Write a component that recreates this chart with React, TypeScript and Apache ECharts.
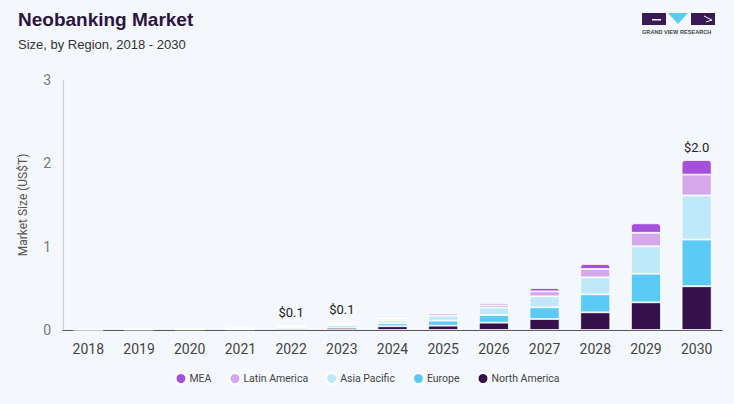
import React, { useEffect, useRef } from "react";
import * as echarts from "echarts";

const years = ["2018", "2019", "2020", "2021", "2022", "2023", "2024", "2025", "2026", "2027", "2028", "2029", "2030"];
const northAmerica = [0.003, 0.005, 0.008, 0.009, 0.018, 0.026, 0.045, 0.052, 0.088, 0.132, 0.212, 0.332, 0.525];
const europe = [0.002, 0.003, 0.005, 0.006, 0.013, 0.025, 0.035, 0.06, 0.092, 0.14, 0.216, 0.343, 0.56];
const asiaPacific = [0.001, 0.002, 0.004, 0.005, 0.012, 0.022, 0.035, 0.06, 0.088, 0.132, 0.204, 0.329, 0.53];
const latinAmerica = [0.0005, 0.001, 0.002, 0.002, 0.006, 0.01, 0.018, 0.028, 0.029, 0.06, 0.1, 0.163, 0.25];
const mea = [0.0003, 0.0005, 0.001, 0.001, 0.003, 0.005, 0.01, 0.012, 0.024, 0.04, 0.06, 0.113, 0.175];
const labelledYears = ["2022", "2023", "2030"];
const yTicks = [0, 1, 2, 3];

const COLORS = {
  na: "#36104a",
  eu: "#5bcbf5",
  ap: "#bfe8f9",
  la: "#d4a8ea",
  mea: "#a550d8",
};

export default function App() {
  const ref = useRef<HTMLDivElement>(null);

  useEffect(() => {
    document.body.style.margin = "0";
    if (!ref.current) return;
    const chart = echarts.init(ref.current, null, { renderer: "svg" });

    const totals = years.map(
      (_, i) => northAmerica[i] + europe[i] + asiaPacific[i] + latinAmerica[i] + mea[i]
    );

    const seg = (name: string, data: number[], color: string, top = false) => ({
      name,
      type: "bar",
      stack: "total",
      barWidth: 30,
      data,
      itemStyle: {
        color,
        borderColor: "#ffffff",
        borderWidth: 0.8,
        borderRadius: top ? [3, 3, 0, 0] : 0,
      },
      label: top
        ? {
            show: true,
            position: "top",
            distance: 6,
            color: "#222",
            fontSize: 13,
            fontFamily: "Roboto, Arial, sans-serif",
            formatter: (p: any) =>
              labelledYears.includes(p.name)
                ? "$" + (Math.round(totals[p.dataIndex] * 10) / 10).toFixed(1)
                : "",
          }
        : { show: false },
      emphasis: { disabled: true },
    });

    chart.setOption({
      animation: false,
      backgroundColor: "#f4f7fb",
      textStyle: { fontFamily: "Roboto, Arial, sans-serif" },
      grid: { left: 63, right: 12, top: 80, bottom: 74 },
      legend: {
        data: ["MEA", "Latin America", "Asia Pacific", "Europe", "North America"],
        bottom: 14,
        left: "center",
        icon: "circle",
        itemWidth: 11,
        itemHeight: 11,
        itemGap: 17,
        textStyle: { color: "#444", fontSize: 10.5, padding: [0, 0, 0, -2] },
      },
      xAxis: {
        type: "category",
        data: years,
        axisLine: { lineStyle: { color: "#555", width: 1.2 } },
        axisTick: { show: false },
        axisLabel: { color: "#444", fontSize: 14, margin: 12 },
      },
      yAxis: {
        type: "value",
        min: 0,
        max: 3,
        interval: 1,
        name: "Market Size (US$T)",
        nameLocation: "middle",
        nameGap: 34,
        nameTextStyle: { color: "#555", fontSize: 12 },
        axisLine: { show: true, lineStyle: { color: "#d0d0d0", width: 1.2 } },
        axisTick: { show: false },
        splitLine: { show: false },
        axisLabel: {
          color: "#777",
          fontSize: 14,
          margin: 12,
          formatter: (v: number) => (yTicks.includes(v) ? String(v) : ""),
        },
      },
      series: [
        seg("North America", northAmerica, COLORS.na),
        seg("Europe", europe, COLORS.eu),
        seg("Asia Pacific", asiaPacific, COLORS.ap),
        seg("Latin America", latinAmerica, COLORS.la),
        seg("MEA", mea, COLORS.mea, true),
      ],
      graphic: [
        {
          type: "text",
          left: 18,
          top: 10,
          style: {
            text: "Neobanking Market",
            fill: "#2a1540",
            font: "bold 19px Arial, 'Liberation Sans', sans-serif",
          },
        },
        {
          type: "text",
          left: 18,
          top: 38,
          style: {
            text: "Size, by Region, 2018 - 2030",
            fill: "#333",
            font: "13px Arial, 'Liberation Sans', sans-serif",
          },
        },
        {
          type: "group",
          left: 642,
          top: 13,
          children: [
            { type: "rect", shape: { x: 0, y: 0, width: 24, height: 12 }, style: { fill: "#3a1a55" } },
            { type: "rect", shape: { x: 10, y: 6, width: 9, height: 1.5 }, style: { fill: "#f4f7fb" } },
            {
              type: "polygon",
              shape: { points: [[26, 0], [46, 0], [36, 11]] },
              style: { fill: "#5bcbf5" },
            },
            { type: "rect", shape: { x: 49, y: 0, width: 24, height: 12 }, style: { fill: "#3a1a55" } },
            {
              type: "polyline",
              shape: { points: [[62, 3], [70, 7], [64, 9]] },
              style: { stroke: "#f4f7fb", lineWidth: 1, fill: "none" },
            },
            {
              type: "text",
              x: 0,
              y: 16,
              style: {
                text: "GRAND VIEW RESEARCH",
                fill: "#444",
                font: "bold 5.6px Arial, sans-serif",
              },
            },
          ],
        },
      ],
    });

    return () => chart.dispose();
  }, []);

  return <div ref={ref} style={{ width: 734, height: 404 }} />;
}
